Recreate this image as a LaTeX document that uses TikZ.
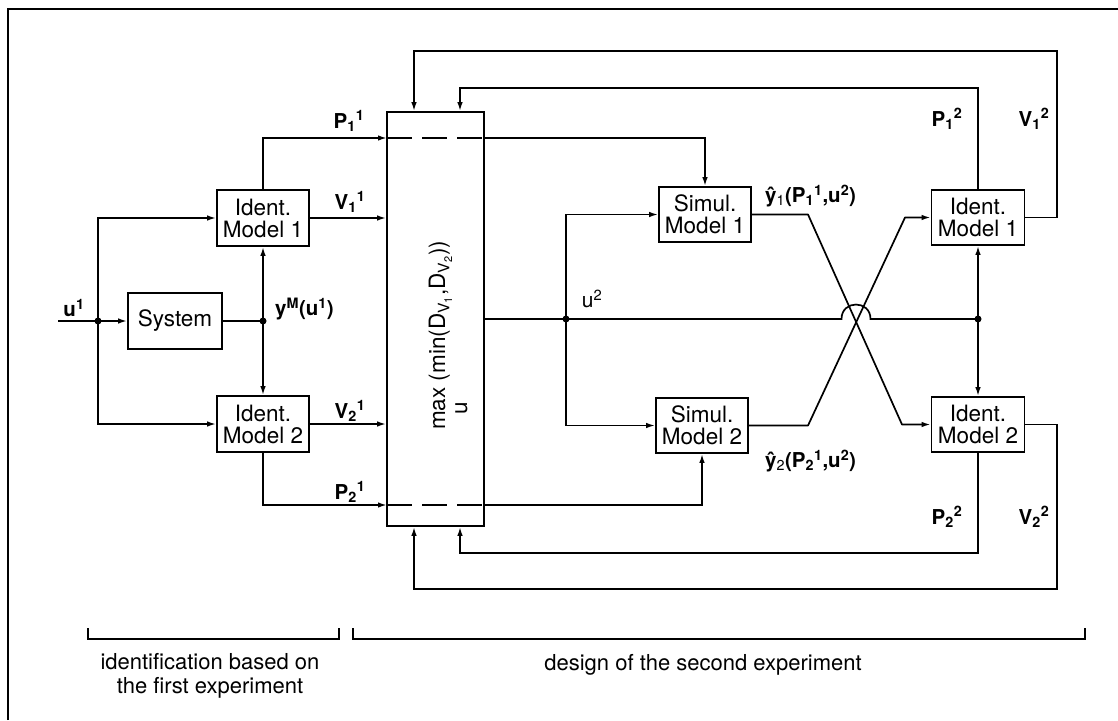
\documentclass[tikz,border=0pt]{standalone}
\usepackage{fontspec}
\setmainfont{TeX Gyre Heros}
\usetikzlibrary{arrows.meta,calc}
\begin{document}
\begin{tikzpicture}[x=1pt,y=-1pt,
  ln/.style={line width=1.7pt},
  arr/.style={line width=1.7pt,-{Latex[length=9pt,width=5.5pt]}},
  blk/.style={draw,line width=1.7pt,align=center,inner sep=0pt,minimum width=92pt,minimum height=55pt,font=\fontsize{22.5}{22}\selectfont},
  lab/.style={inner sep=0pt,font=\fontsize{20.5}{22}\selectfont\bfseries},
  dot/.style={circle,fill,inner sep=0pt,minimum size=7pt},
  brk/.style={line width=1.1pt},
  frm/.style={line width=1.5pt}
]
\useasboundingbox (0,0) rectangle (1118,720);

% frame
\coordinate (fbl) at (8,720);
\coordinate (ftl) at (8,9);
\coordinate (ftr) at (1118,9);
\draw[frm] (fbl) -- (ftl) -- (ftr);

% blocks
\node[blk,minimum width=94pt,minimum height=56pt] (sys) at (175,321) {System};
\node[blk,minimum height=56pt] (im1) at (263,218) {Ident.\\Model 1};
\node[blk,minimum height=56pt] (im2) at (263,424) {Ident.\\Model 2};
\node[draw,line width=1.7pt,minimum width=97pt,minimum height=414pt,inner sep=0pt] (cb) at (435.5,319) {};
\node[rotate=90,anchor=base west,inner sep=0pt,font=\fontsize{22.5}{22}\selectfont] (cbt) at (445,430)
  {\begin{tabular}[t]{@{}c@{}}max\\u\end{tabular}\ (min(D\textsubscript{V\textsubscript{1}},D\textsubscript{V\textsubscript{2}}))};
\node[blk] (sm1) at (705,214.5) {Simul.\\Model 1};
\node[blk] (sm2) at (702,425.5) {Simul.\\Model 2};
\node[blk,minimum width=93pt] (rm1) at (978,217.5) {Ident.\\Model 1};
\node[blk,minimum width=93pt] (rm2) at (978,424.5) {Ident.\\Model 2};

% coordinates
\coordinate (u1s) at (58,321);
\coordinate (j1) at (98,321);
\coordinate (j2) at (263,321);
\coordinate (p11) at (387,138);
\coordinate (p11o) at (484,138);
\coordinate (p21) at (387,505);
\coordinate (p21o) at (484,505);
\coordinate (j3) at (566,319);
\coordinate (hopL) at (841.5,319);
\coordinate (hopR) at (870.5,319);
\coordinate (j4) at (978,319);
\coordinate (a1) at (808,214.5);
\coordinate (a2) at (902,424.5);
\coordinate (b1) at (808,425.5);
\coordinate (b2) at (905,217.5);
\coordinate (tOut) at (414,51);
\coordinate (tIn) at (460,88);
\coordinate (bIn) at (460,553);
\coordinate (bOut) at (414,589);
\coordinate (vt) at (1057,51);
\coordinate (vb) at (1057,589);

% left part
\draw[arr] (u1s) -- (sys.west);
\draw[arr] (j1) |- (im1.west);
\draw[arr] (j1) |- (im2.west);
\draw[ln] (sys.east) -- (j2);
\draw[arr] (j2) -- (im1.south);
\draw[arr] (j2) -- (im2.north);
\draw[arr] (im1.north) |- (p11);
\draw[arr] (im1.east) -- (im1.east -| cb.west);
\draw[arr] (im2.east) -- (im2.east -| cb.west);
\draw[arr] (im2.south) |- (p21);

% through the central box
\draw[ln,dash pattern=on 25pt off 10pt] (p11) -- (p11o);
\draw[ln,dash pattern=on 25pt off 10pt] (p21) -- (p21o);
\draw[arr] (p11o) -| (sm1.north);
\draw[arr] (p21o) -| (sm2.south);

% u2
\draw[ln] (cb.east) -- (hopL) .. controls +(0,-19.3) and +(0,-19.3) .. (hopR) -- (j4);
\draw[arr] (j3) |- (sm1.west);
\draw[arr] (j3) |- (sm2.west);

% crossing
\draw[arr,line join=round] (sm1.east) -- (a1) -- (a2) -- (rm2.west);
\draw[arr,line join=round] (sm2.east) -- (b1) -- (b2) -- (rm1.west);
\draw[arr] (j4) -- (rm1.south);
\draw[arr] (j4) -- (rm2.north);

% feedback
\draw[arr] (rm1.north) |- (tIn) -- (tIn |- cb.north);
\draw[arr] (rm1.east) -| (vt) -- (tOut) -- (tOut |- cb.north);
\draw[arr] (rm2.south) |- (bIn) -- (bIn |- cb.south);
\draw[arr] (rm2.east) -| (vb) -- (bOut) -- (bOut |- cb.south);

% dots
\node[dot] (d1) at (j1) {};
\node[dot] (d2) at (j2) {};
\node[dot] (d3) at (j3) {};
\node[dot] (d4) at (j4) {};

% labels
\node[lab] (lu1) at (74,308) {u\textsuperscript{1}};
\node[lab,anchor=west] (lyM) at (275,309) {y\textsuperscript{M}(u\textsuperscript{1})};
\node[lab] (lP11) at (349,121) {P\textsubscript{1}\textsuperscript{1}};
\node[lab] (lV11) at (350,202) {V\textsubscript{1}\textsuperscript{1}};
\node[lab] (lV21) at (350,411) {V\textsubscript{2}\textsuperscript{1}};
\node[lab] (lP21) at (350,492) {P\textsubscript{2}\textsuperscript{1}};
\node[inner sep=0pt,font=\fontsize{21}{22}\selectfont] (lu2) at (592,299) {u\textsuperscript{2}};
\node[lab,anchor=west] (ly1) at (765,196) {\^{y}\textsubscript{\mdseries 1}(P\textsubscript{1}\textsuperscript{1},u\textsuperscript{2})};
\node[lab,anchor=west] (ly2) at (765,461) {\^{y}\textsubscript{\mdseries 2}(P\textsubscript{2}\textsuperscript{1},u\textsuperscript{2})};
\node[lab] (lP12) at (947,119) {P\textsubscript{1}\textsuperscript{2}};
\node[lab] (lV12) at (1034,119) {V\textsubscript{1}\textsuperscript{2}};
\node[lab] (lP22) at (947,517) {P\textsubscript{2}\textsuperscript{2}};
\node[lab] (lV22) at (1034,517) {V\textsubscript{2}\textsuperscript{2}};

% brackets
\coordinate (k1) at (88,628);
\coordinate (k2) at (88,639);
\coordinate (k3) at (339,639);
\coordinate (k4) at (339,628);
\coordinate (k5) at (353,628);
\coordinate (k6) at (353,639);
\coordinate (k7) at (1085,639);
\coordinate (k8) at (1085,628);
\draw[brk] (k1) -- (k2) -- (k3) -- (k4);
\draw[brk] (k5) -- (k6) -- (k7) -- (k8);
\node[align=center,inner sep=0pt,font=\fontsize{22}{24}\selectfont] (t1) at (210,676) {identification based on\\the first experiment};
\node[inner sep=0pt,font=\fontsize{22}{24}\selectfont] (t2) at (703,665) {design of the second experiment};
\end{tikzpicture}
\end{document}
